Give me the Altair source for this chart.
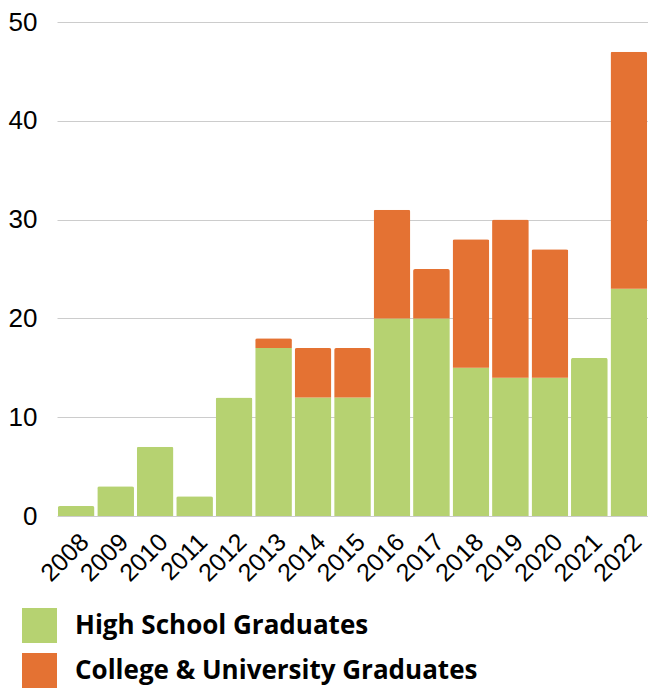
import altair as alt
import pandas as pd

years = ["2008", "2009", "2010", "2011", "2012", "2013", "2014", "2015",
         "2016", "2017", "2018", "2019", "2020", "2021", "2022"]
high_school = [1, 3, 7, 2, 12, 17, 12, 12, 20, 20, 15, 14, 14, 16, 23]
college = [0, 0, 0, 0, 0, 1, 5, 5, 11, 5, 13, 16, 13, 0, 24]
series = ["High School Graduates", "College & University Graduates"]
colors = ["#b6d271", "#e47233"]
y_ticks = [0, 10, 20, 30, 40, 50]

rows = []
for i, yr in enumerate(years):
    rows.append({"year": yr, "group": series[0], "value": high_school[i], "ord": 0})
    rows.append({"year": yr, "group": series[1], "value": college[i], "ord": 1})
df = pd.DataFrame(rows)

chart = alt.Chart(df).mark_bar(
    cornerRadiusTopLeft=2, cornerRadiusTopRight=2
).encode(
    x=alt.X("year:N", sort=years, title=None,
            scale=alt.Scale(paddingInner=0.07, paddingOuter=0.02),
            axis=alt.Axis(labelAngle=-45, labelAlign="right", labelBaseline="top",
                          labelFont="Liberation Sans", labelFontSize=25,
                          labelColor="#000", labelPadding=13, ticks=False,
                          domain=False, grid=False)),
    y=alt.Y("value:Q", stack="zero", title=None,
            scale=alt.Scale(domain=[0, 50], nice=False),
            axis=alt.Axis(values=y_ticks, labelFont="Liberation Sans", labelFontSize=26,
                          labelColor="#000", labelPadding=20, ticks=False, domain=False,
                          grid=True, gridColor="#cccccc", gridWidth=1)),
    color=alt.Color("group:N", sort=series,
                    scale=alt.Scale(domain=series, range=colors),
                    legend=alt.Legend(orient="none", legendX=-35, legendY=586,
                                      title=None, symbolType="square", symbolSize=1225,
                                      symbolStrokeWidth=0, symbolOpacity=1,
                                      labelFont="Open Sans", labelFontWeight="bold",
                                      labelFontSize=26, labelColor="#000",
                                      labelOffset=18, rowPadding=10,
                                      direction="vertical", labelLimit=600)),
    order=alt.Order("ord:Q", sort="ascending"),
).properties(
    width=591, height=494,
    autosize=alt.AutoSizeParams(type="none"),
    padding={"left": 49, "top": 14, "right": 0, "bottom": 173},
).configure_view(stroke=None)

chart.save("out.html", embed_options={"renderer": "svg", "actions": False})
